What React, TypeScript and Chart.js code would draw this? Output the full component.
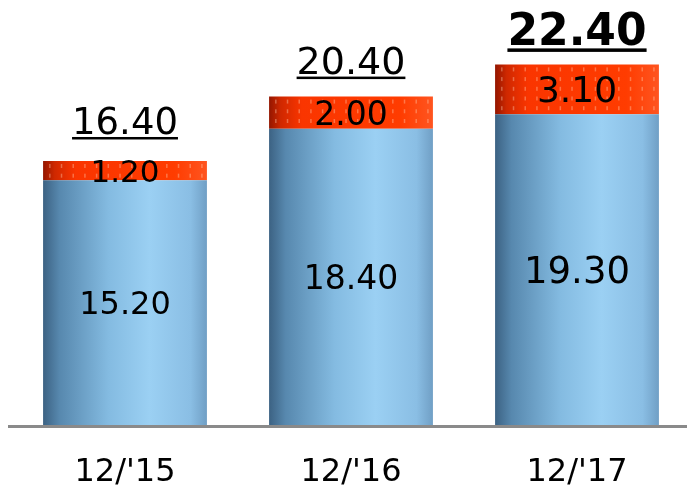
import React, { useEffect, useRef } from "react";
import { Chart, registerables } from "chart.js";

Chart.register(...registerables);

// ---- data ----
const categories = ["12/'15", "12/'16", "12/'17"];
const baseValues = [15.2, 18.4, 19.3];
const topValues = [1.2, 2.0, 3.1];
const totalValues = [16.4, 20.4, 22.4];

// ---- label styles (not data) ----
const baseLabelSizes = [32, 33, 37];
const topLabelSizes = [31, 33, 36];
const totalLabelSizes = [37, 38, 44];
const totalLabelBold = [false, false, true];
const totalLabelGap = [27, 23, 19];
const FONT = "'DejaVu Sans', Verdana, sans-serif";

const W = 692;
const H = 486;

function barRect(el: any) {
  const p = el.getProps(["x", "y", "base", "width"], true);
  return { left: p.x - p.width / 2, right: p.x + p.width / 2, top: Math.min(p.y, p.base), bottom: Math.max(p.y, p.base), x: p.x };
}

function makeGradient(chart: any, index: number, stops: [number, string][]) {
  const xs = chart.scales.x;
  if (!xs || !chart.chartArea) return stops[stops.length - 1][1];
  const cx = xs.getPixelForValue(index);
  const slot = (chart.chartArea.right - chart.chartArea.left) / categories.length;
  const w = slot * 0.725;
  const g = chart.ctx.createLinearGradient(cx - w / 2, 0, cx + w / 2, 0);
  stops.forEach(([o, c]) => g.addColorStop(o, c));
  return g;
}

const blueStops: [number, string][] = [
  [0, "#3c6283"],
  [0.1, "#5788ae"],
  [0.4, "#84bbe1"],
  [0.65, "#9bd0f3"],
  [0.9, "#8abee4"],
  [1, "#709fc5"],
];
const orangeStops: [number, string][] = [
  [0, "#931600"],
  [0.07, "#cf2800"],
  [0.2, "#fa3500"],
  [0.8, "#ff3c00"],
  [1, "#ff5520"],
];

const decorPlugin = {
  id: "decor",
  beforeDatasetsDraw(chart: any) {
    const ctx = chart.ctx;
    const y0 = chart.scales.y.getPixelForValue(0);
    ctx.save();
    ctx.strokeStyle = "#8a8a8a";
    ctx.lineWidth = 3;
    ctx.beginPath();
    ctx.moveTo(8, y0 + 1.5);
    ctx.lineTo(chart.width, y0 + 1.5);
    ctx.stroke();
    ctx.restore();
  },
  afterDatasetsDraw(chart: any) {
    const ctx = chart.ctx;
    const baseMeta = chart.getDatasetMeta(0);
    const topMeta = chart.getDatasetMeta(1);
    ctx.save();
    // orange texture
    topMeta.data.forEach((el: any) => {
      const r = barRect(el);
      ctx.save();
      ctx.beginPath();
      ctx.rect(r.left, r.top, r.right - r.left, r.bottom - r.top);
      ctx.clip();
      ctx.fillStyle = "rgba(255,205,175,0.4)";
      for (let y = r.top + 3; y < r.bottom - 2; y += 9.7) {
        for (let x = r.left + 6; x < r.right - 2; x += 11.7) {
          ctx.fillRect(x, y, 1.5, 4);
        }
      }
      ctx.restore();
    });
    ctx.fillStyle = "#000";
    ctx.textAlign = "center";
    ctx.textBaseline = "alphabetic";
    // inner labels
    baseMeta.data.forEach((el: any, i: number) => {
      const r = barRect(el);
      const s = baseLabelSizes[i];
      ctx.font = `${s}px ${FONT}`;
      ctx.fillText(baseValues[i].toFixed(2), r.x, (r.top + r.bottom) / 2 + 0.365 * s);
    });
    topMeta.data.forEach((el: any, i: number) => {
      const r = barRect(el);
      const s = topLabelSizes[i];
      ctx.font = `${s}px ${FONT}`;
      ctx.fillText(topValues[i].toFixed(2), r.x, (r.top + r.bottom) / 2 + 0.365 * s);
    });
    // totals, underlined
    topMeta.data.forEach((el: any, i: number) => {
      const r = barRect(el);
      const s = totalLabelSizes[i];
      const bold = totalLabelBold[i];
      ctx.font = `${bold ? "bold " : ""}${s}px ${FONT}`;
      const txt = totalValues[i].toFixed(2);
      const by = r.top - totalLabelGap[i];
      ctx.fillText(txt, r.x, by);
      const tw = ctx.measureText(txt).width;
      ctx.fillRect(r.x - tw / 2, by + 3, tw, bold ? 3.5 : 2.5);
    });
    ctx.restore();
  },
};

export default function App() {
  const ref = useRef<HTMLCanvasElement | null>(null);
  useEffect(() => {
    if (!ref.current) return;
    const chart = new Chart(ref.current, {
      type: "bar",
      data: {
        labels: categories,
        datasets: [
          {
            data: baseValues,
            backgroundColor: (c: any) => makeGradient(c.chart, c.dataIndex, blueStops),
            borderWidth: 0,
            barPercentage: 0.725,
            categoryPercentage: 1,
          },
          {
            data: topValues,
            backgroundColor: (c: any) => makeGradient(c.chart, c.dataIndex, orangeStops),
            borderWidth: 0,
            barPercentage: 0.725,
            categoryPercentage: 1,
          },
        ],
      },
      options: {
        responsive: false,
        animation: false,
        layout: { padding: { left: 12, right: 2, top: 0, bottom: 0 } },
        plugins: { legend: { display: false }, tooltip: { enabled: false }, title: { display: false } },
        scales: {
          x: {
            stacked: true,
            grid: { display: false, drawTicks: false },
            border: { display: false },
            ticks: { color: "#000", padding: 28, font: { family: FONT, size: 32, lineHeight: 1.2 } },
            afterFit: (s: any) => {
              s.height = 61;
            },
          },
          y: {
            stacked: true,
            display: false,
            min: 0,
            max: 26.4,
          },
        },
      },
      plugins: [decorPlugin],
    });
    return () => chart.destroy();
  }, []);
  return (
    <div style={{ position: "fixed", left: 0, top: 0, width: 687, height: 486, overflow: "hidden", background: "#fff" }}>
      <canvas ref={ref} width={W} height={H} style={{ display: "block", width: W, height: H }} />
    </div>
  );
}
